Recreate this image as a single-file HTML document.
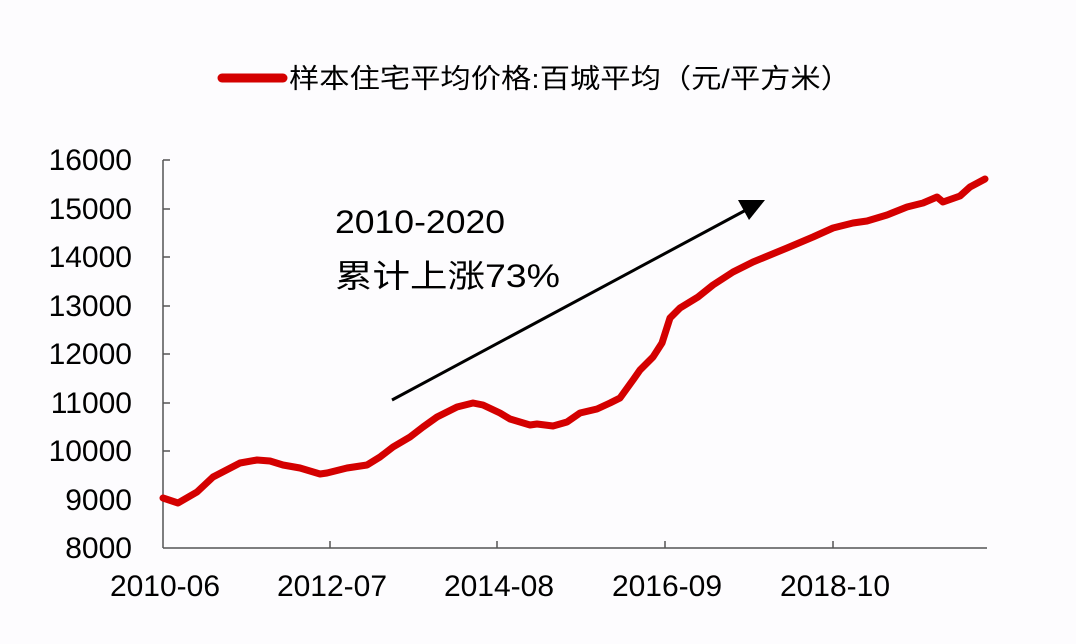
<!DOCTYPE html>
<html><head><meta charset="utf-8"><style>
html,body{margin:0;padding:0;background:#fdfcfe;}
svg{display:block;}
text{font-family:"Liberation Sans","Noto Sans CJK SC",sans-serif;fill:#000;}
</style></head><body>
<svg width="1076" height="644" viewBox="0 0 1076 644" xmlns="http://www.w3.org/2000/svg">
<rect width="1076" height="644" fill="#fdfcfe"/>
<line x1="222" y1="78" x2="283" y2="78" stroke="#d40000" stroke-width="9" stroke-linecap="round"/>
<text x="289" y="88" font-size="27" textLength="562" lengthAdjust="spacingAndGlyphs">样本住宅平均价格:百城平均（元/平方米）</text>
<g stroke="#555" stroke-width="1.5" fill="none">
<line x1="163" y1="160" x2="163" y2="548"/>
<line x1="163" y1="548" x2="987" y2="548"/>
<line x1="163" y1="160" x2="170" y2="160"/><line x1="163" y1="209" x2="170" y2="209"/><line x1="163" y1="257" x2="170" y2="257"/><line x1="163" y1="306" x2="170" y2="306"/><line x1="163" y1="354" x2="170" y2="354"/><line x1="163" y1="403" x2="170" y2="403"/><line x1="163" y1="451" x2="170" y2="451"/><line x1="163" y1="500" x2="170" y2="500"/>
<line x1="330" y1="541" x2="330" y2="548"/><line x1="497" y1="541" x2="497" y2="548"/><line x1="665" y1="541" x2="665" y2="548"/><line x1="833" y1="541" x2="833" y2="548"/>
</g>
<g font-size="30" text-anchor="end">
<text x="132" y="170">16000</text><text x="132" y="219">15000</text><text x="132" y="267">14000</text><text x="132" y="316">13000</text><text x="132" y="364">12000</text><text x="132" y="413">11000</text><text x="132" y="461">10000</text><text x="132" y="510">9000</text><text x="132" y="558">8000</text>
</g>
<g font-size="30" text-anchor="middle">
<text x="165" y="596">2010-06</text><text x="332" y="596">2012-07</text><text x="499" y="596">2014-08</text><text x="667" y="596">2016-09</text><text x="835" y="596">2018-10</text>
</g>
<text x="335" y="233" font-size="32" textLength="170" lengthAdjust="spacingAndGlyphs">2010-2020</text>
<text x="335" y="287" font-size="32" textLength="225" lengthAdjust="spacingAndGlyphs">累计上涨73%</text>
<line x1="392" y1="400" x2="746" y2="210" stroke="#000" stroke-width="3"/>
<polygon points="765,200 738,200 749,220" fill="#000"/>
<polyline fill="none" stroke="#d40000" stroke-width="7" stroke-linejoin="round" stroke-linecap="round" points="163,498 178,503 197,492 213,477 240,463 257,460 270,461 283,465 300,468 320,474 327,473 347,468 367,465 380,457 393,447 410,437 423,427 437,417 457,407 473,403 483,405 500,413 510,419 530,425 537,424 553,426 567,422 580,413 597,409 610,403 620,398 633,380 640,370 653,357 662,343 670,318 680,308 698,297 713,285 733,272 753,262 787,248 813,237 833,228 853,223 867,221 887,215 907,207 923,203 937,197 943,202 960,196 970,187 985,179"/>
</svg>
</body></html>
